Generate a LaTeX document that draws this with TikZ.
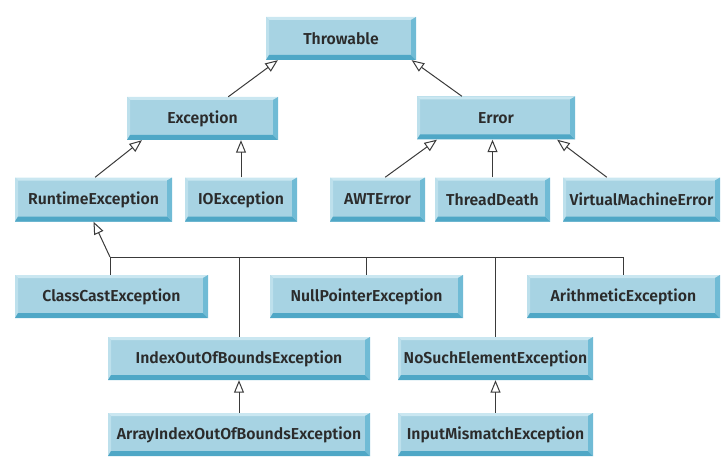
\documentclass[tikz,border=0pt]{standalone}
\usepackage{fontspec}
\newfontfamily\lblfont{Fira Sans}[UprightFont={* SemiBold}]
\usetikzlibrary{arrows.meta,calc}

\definecolor{face}{HTML}{A7D3E3}
\definecolor{bevtop}{HTML}{CAE7F1}
\definecolor{bevleft}{HTML}{BDE0EC}
\definecolor{bevbot}{HTML}{4FA7C6}
\definecolor{bevright}{HTML}{70BBD5}
\definecolor{ink}{HTML}{2B2B2B}
\definecolor{wire}{HTML}{3A3A3A}

\tikzset{
  cls/.style={rectangle, inner sep=0pt, minimum height=43pt, fill=face,
    text=ink, font=\lblfont\fontsize{15.8}{18}\selectfont,
    path picture={
      \fill[bevtop] (path picture bounding box.north west) -- (path picture bounding box.north east)
        -- ([shift={(-5pt,-3pt)}]path picture bounding box.north east)
        -- ([shift={(3pt,-3pt)}]path picture bounding box.north west) -- cycle;
      \fill[bevleft] (path picture bounding box.north west)
        -- ([shift={(3pt,-3pt)}]path picture bounding box.north west)
        -- ([shift={(3pt,5pt)}]path picture bounding box.south west)
        -- (path picture bounding box.south west) -- cycle;
      \fill[bevbot] (path picture bounding box.south west)
        -- ([shift={(3pt,5pt)}]path picture bounding box.south west)
        -- ([shift={(-5pt,5pt)}]path picture bounding box.south east)
        -- (path picture bounding box.south east) -- cycle;
      \fill[bevright] (path picture bounding box.north east)
        -- (path picture bounding box.south east)
        -- ([shift={(-5pt,5pt)}]path picture bounding box.south east)
        -- ([shift={(-5pt,-3pt)}]path picture bounding box.north east) -- cycle;
    }},
  wireline/.style={draw=wire, line width=1pt},
  inh/.style={wireline, -{Triangle[open, length=12.5pt, width=10pt, line width=1pt]}}
}

\begin{document}
\begin{tikzpicture}[x=1pt, y=-1pt]
\useasboundingbox (0,0) rectangle (727,457);

% root and its two direct subclasses
\node[cls, minimum width=150pt] (thr) at (341,38.5) {Throwable};
\node[cls, minimum width=151pt] (exc) at (202.5,118.5) {Exception};
\node[cls, minimum width=158pt] (err) at (496,118) {Error};

% third row
\node[cls, minimum width=157pt, minimum height=44pt] (rte) at (93.5,199.5) {RuntimeException};
\node[cls, minimum width=112pt, minimum height=44pt] (ioe) at (241,199.5) {IOException};
\node[cls, minimum width=95pt, minimum height=44pt] (awt) at (377.5,199.5) {AWTError};
\node[cls, minimum width=115pt, minimum height=44pt] (thd) at (492.5,199.5) {ThreadDeath};
\node[cls, minimum width=157pt, minimum height=44pt] (vme) at (641.5,199.5) {VirtualMachineError};

% subclasses of RuntimeException
\node[cls, minimum width=193pt] (cce) at (111.5,296.5) {ClassCastException};
\node[cls, minimum width=193pt] (npe) at (366.5,296.5) {NullPointerException};
\node[cls, minimum width=193pt] (ari) at (623.5,296.5) {ArithmeticException};
\node[cls, minimum width=262pt] (iob) at (239,358.5) {IndexOutOfBoundsException};
\node[cls, minimum width=195pt] (nse) at (495.5,358.5) {NoSuchElementException};

% bottom row
\node[cls, minimum width=262pt] (aio) at (239,434.5) {ArrayIndexOutOfBoundsException};
\node[cls, minimum width=195pt] (ime) at (495.5,434.5) {InputMismatchException};

% inheritance arrows
\draw[inh] ($(exc.north west)!0.67!(exc.north east)$) -- ($(thr.south west)!0.08!(thr.south east)$);
\draw[inh] ($(err.north west)!0.285!(err.north east)$) -- ($(thr.south west)!0.97!(thr.south east)$);
\draw[inh] ($(rte.north west)!0.51!(rte.north east)$) -- ($(exc.south west)!0.10!(exc.south east)$);
\draw[inh] (ioe.north) -- (ioe.north |- exc.south);
\draw[inh] ($(awt.north west)!0.58!(awt.north east)$) -- ($(err.south west)!0.127!(err.south east)$);
\draw[inh] (thd.north) -- (thd.north |- err.south);
\draw[inh] ($(vme.north west)!0.28!(vme.north east)$) -- ($(err.south west)!0.886!(err.south east)$);
\draw[inh] (aio.north) -- (iob.south);
\draw[inh] (ime.north) -- (nse.south);

% shared bus for the RuntimeException subclasses
\coordinate (busl) at (110,257);
\coordinate (busr) at (623,257);
\draw[inh] (busl) -- (rte.south);
\draw[wireline] (busl) -- (busr);
\draw[wireline] (busl) -- (busl |- cce.north);
\draw[wireline] (iob.north |- busl) -- (iob.north);
\draw[wireline] (npe.north |- busl) -- (npe.north);
\draw[wireline] (nse.north |- busl) -- (nse.north);
\draw[wireline] (busr) -- (busr |- ari.north);
\end{tikzpicture}
\end{document}
